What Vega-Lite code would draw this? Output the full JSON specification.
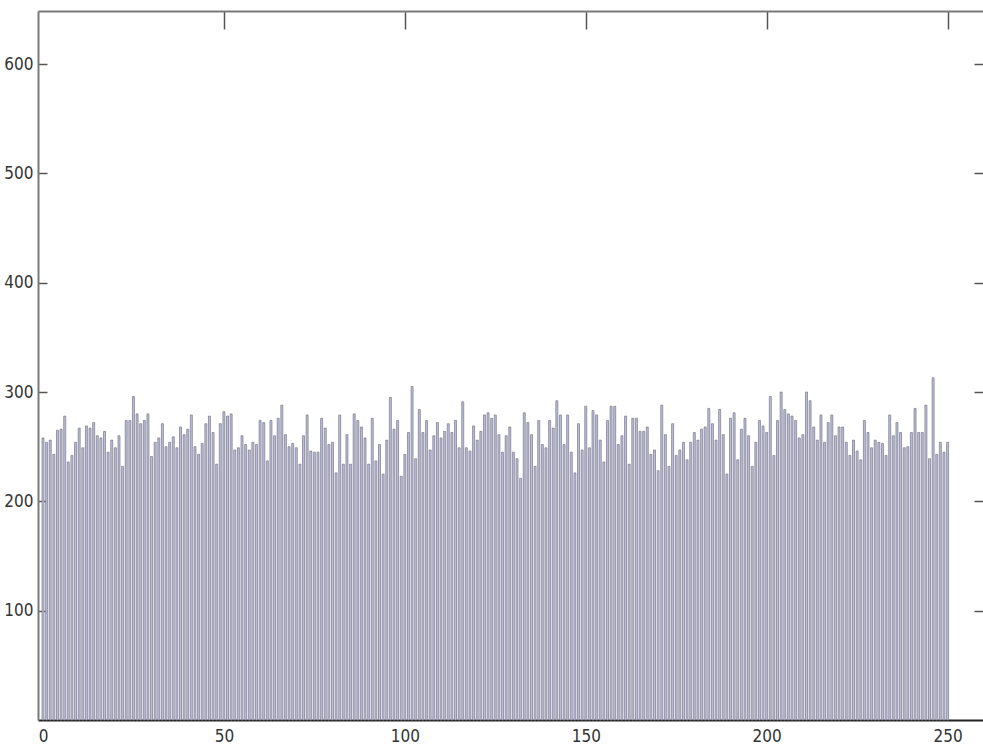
{
  "$schema": "https://vega.github.io/schema/vega-lite/v6.json",
  "width": 945,
  "height": 709,
  "autosize": {"type": "none"},
  "padding": {"left": 38, "top": 11, "right": 0, "bottom": 31},
  "background": "white",
  "config": {
    "view": {"stroke": null},
    "axis": {
      "labelFont": "Liberation Sans Narrow, DejaVu Sans Condensed, Liberation Sans, sans-serif",
      "labelFontSize": 17,
      "labelColor": "#333333",
      "grid": false,
      "title": null,
      "domainColor": "#7a7a7a",
      "domainWidth": 2,
      "tickColor": "#555555",
      "tickWidth": 1.5
    }
  },
  "data": {
    "values": [
      {"level":0,"count":258},{"level":1,"count":254},{"level":2,"count":256},{"level":3,"count":243},{"level":4,"count":265},
      {"level":5,"count":266},{"level":6,"count":278},{"level":7,"count":236},{"level":8,"count":242},{"level":9,"count":254},
      {"level":10,"count":267},{"level":11,"count":249},{"level":12,"count":269},{"level":13,"count":267},{"level":14,"count":272},
      {"level":15,"count":260},{"level":16,"count":258},{"level":17,"count":264},{"level":18,"count":245},{"level":19,"count":256},
      {"level":20,"count":249},{"level":21,"count":260},{"level":22,"count":232},{"level":23,"count":274},{"level":24,"count":274},
      {"level":25,"count":296},{"level":26,"count":280},{"level":27,"count":271},{"level":28,"count":274},{"level":29,"count":280},
      {"level":30,"count":241},{"level":31,"count":254},{"level":32,"count":258},{"level":33,"count":271},{"level":34,"count":250},
      {"level":35,"count":254},{"level":36,"count":259},{"level":37,"count":249},{"level":38,"count":268},{"level":39,"count":261},
      {"level":40,"count":266},{"level":41,"count":279},{"level":42,"count":250},{"level":43,"count":243},{"level":44,"count":253},
      {"level":45,"count":271},{"level":46,"count":278},{"level":47,"count":263},{"level":48,"count":234},{"level":49,"count":271},
      {"level":50,"count":282},{"level":51,"count":278},{"level":52,"count":280},{"level":53,"count":247},{"level":54,"count":249},
      {"level":55,"count":260},{"level":56,"count":252},{"level":57,"count":247},{"level":58,"count":254},{"level":59,"count":252},
      {"level":60,"count":274},{"level":61,"count":272},{"level":62,"count":237},{"level":63,"count":274},{"level":64,"count":260},
      {"level":65,"count":276},{"level":66,"count":288},{"level":67,"count":261},{"level":68,"count":250},{"level":69,"count":253},
      {"level":70,"count":249},{"level":71,"count":234},{"level":72,"count":260},{"level":73,"count":279},{"level":74,"count":246},
      {"level":75,"count":245},{"level":76,"count":245},{"level":77,"count":276},{"level":78,"count":267},{"level":79,"count":252},
      {"level":80,"count":254},{"level":81,"count":226},{"level":82,"count":279},{"level":83,"count":234},{"level":84,"count":261},
      {"level":85,"count":234},{"level":86,"count":280},{"level":87,"count":274},{"level":88,"count":268},{"level":89,"count":258},
      {"level":90,"count":234},{"level":91,"count":276},{"level":92,"count":237},{"level":93,"count":252},{"level":94,"count":225},
      {"level":95,"count":256},{"level":96,"count":295},{"level":97,"count":266},{"level":98,"count":274},{"level":99,"count":223},
      {"level":100,"count":243},{"level":101,"count":263},{"level":102,"count":305},{"level":103,"count":239},{"level":104,"count":284},
      {"level":105,"count":263},{"level":106,"count":274},{"level":107,"count":247},{"level":108,"count":260},{"level":109,"count":272},
      {"level":110,"count":258},{"level":111,"count":264},{"level":112,"count":271},{"level":113,"count":263},{"level":114,"count":274},
      {"level":115,"count":249},{"level":116,"count":291},{"level":117,"count":249},{"level":118,"count":246},{"level":119,"count":269},
      {"level":120,"count":256},{"level":121,"count":264},{"level":122,"count":279},{"level":123,"count":281},{"level":124,"count":276},
      {"level":125,"count":279},{"level":126,"count":261},{"level":127,"count":245},{"level":128,"count":260},{"level":129,"count":268},
      {"level":130,"count":245},{"level":131,"count":239},{"level":132,"count":221},{"level":133,"count":281},{"level":134,"count":272},
      {"level":135,"count":261},{"level":136,"count":232},{"level":137,"count":274},{"level":138,"count":252},{"level":139,"count":249},
      {"level":140,"count":274},{"level":141,"count":267},{"level":142,"count":292},{"level":143,"count":279},{"level":144,"count":252},
      {"level":145,"count":279},{"level":146,"count":245},{"level":147,"count":226},{"level":148,"count":271},{"level":149,"count":247},
      {"level":150,"count":287},{"level":151,"count":249},{"level":152,"count":283},{"level":153,"count":279},{"level":154,"count":256},
      {"level":155,"count":236},{"level":156,"count":274},{"level":157,"count":287},{"level":158,"count":287},{"level":159,"count":252},
      {"level":160,"count":260},{"level":161,"count":278},{"level":162,"count":234},{"level":163,"count":276},{"level":164,"count":276},
      {"level":165,"count":264},{"level":166,"count":264},{"level":167,"count":268},{"level":168,"count":243},{"level":169,"count":247},
      {"level":170,"count":228},{"level":171,"count":288},{"level":172,"count":261},{"level":173,"count":232},{"level":174,"count":271},
      {"level":175,"count":242},{"level":176,"count":247},{"level":177,"count":254},{"level":178,"count":238},{"level":179,"count":254},
      {"level":180,"count":263},{"level":181,"count":256},{"level":182,"count":266},{"level":183,"count":268},{"level":184,"count":285},
      {"level":185,"count":271},{"level":186,"count":256},{"level":187,"count":284},{"level":188,"count":261},{"level":189,"count":225},
      {"level":190,"count":276},{"level":191,"count":281},{"level":192,"count":238},{"level":193,"count":266},{"level":194,"count":276},
      {"level":195,"count":260},{"level":196,"count":232},{"level":197,"count":254},{"level":198,"count":274},{"level":199,"count":269},
      {"level":200,"count":263},{"level":201,"count":296},{"level":202,"count":242},{"level":203,"count":274},{"level":204,"count":300},
      {"level":205,"count":284},{"level":206,"count":280},{"level":207,"count":278},{"level":208,"count":274},{"level":209,"count":258},
      {"level":210,"count":261},{"level":211,"count":300},{"level":212,"count":292},{"level":213,"count":268},{"level":214,"count":256},
      {"level":215,"count":279},{"level":216,"count":254},{"level":217,"count":272},{"level":218,"count":279},{"level":219,"count":260},
      {"level":220,"count":268},{"level":221,"count":268},{"level":222,"count":254},{"level":223,"count":242},{"level":224,"count":256},
      {"level":225,"count":246},{"level":226,"count":238},{"level":227,"count":274},{"level":228,"count":263},{"level":229,"count":249},
      {"level":230,"count":256},{"level":231,"count":254},{"level":232,"count":253},{"level":233,"count":242},{"level":234,"count":279},
      {"level":235,"count":260},{"level":236,"count":272},{"level":237,"count":263},{"level":238,"count":249},{"level":239,"count":250},
      {"level":240,"count":263},{"level":241,"count":285},{"level":242,"count":263},{"level":243,"count":263},{"level":244,"count":288},
      {"level":245,"count":239},{"level":246,"count":313},{"level":247,"count":243},{"level":248,"count":254},{"level":249,"count":245},
      {"level":250,"count":254}
    ]
  },
  "layer": [
    {
      "mark": {"type": "bar", "width": 2, "fill": "#bcbdda", "stroke": "#787889", "strokeWidth": 0.7},
      "encoding": {
        "x": {
          "field": "level", "type": "quantitative",
          "scale": {"domain": [0, 258.4], "nice": false, "zero": false},
          "axis": {"orient": "bottom", "values": [0, 50, 100, 150, 200, 250], "ticks": false, "labelPadding": 8, "domainColor": "#222222", "domainWidth": 2, "labelFlush": false}
        },
        "y": {
          "field": "count", "type": "quantitative",
          "scale": {"domain": [0, 648.5], "nice": false},
          "axis": {"orient": "left", "values": [100, 200, 300, 400, 500, 600], "tickSize": -9, "labelPadding": 14}
        }
      }
    },
    {
      "mark": {"type": "point", "opacity": 0},
      "encoding": {
        "x": {
          "field": "level", "type": "quantitative",
          "axis": {"orient": "top", "values": [50, 100, 150, 200, 250], "tickSize": -18, "labels": false}
        },
        "y": {
          "field": "count", "type": "quantitative",
          "axis": {"orient": "right", "values": [100, 200, 300, 400, 500, 600], "tickSize": -9, "labels": false, "domain": false}
        }
      }
    }
  ],
  "resolve": {"axis": {"x": "independent", "y": "independent"}}
}
